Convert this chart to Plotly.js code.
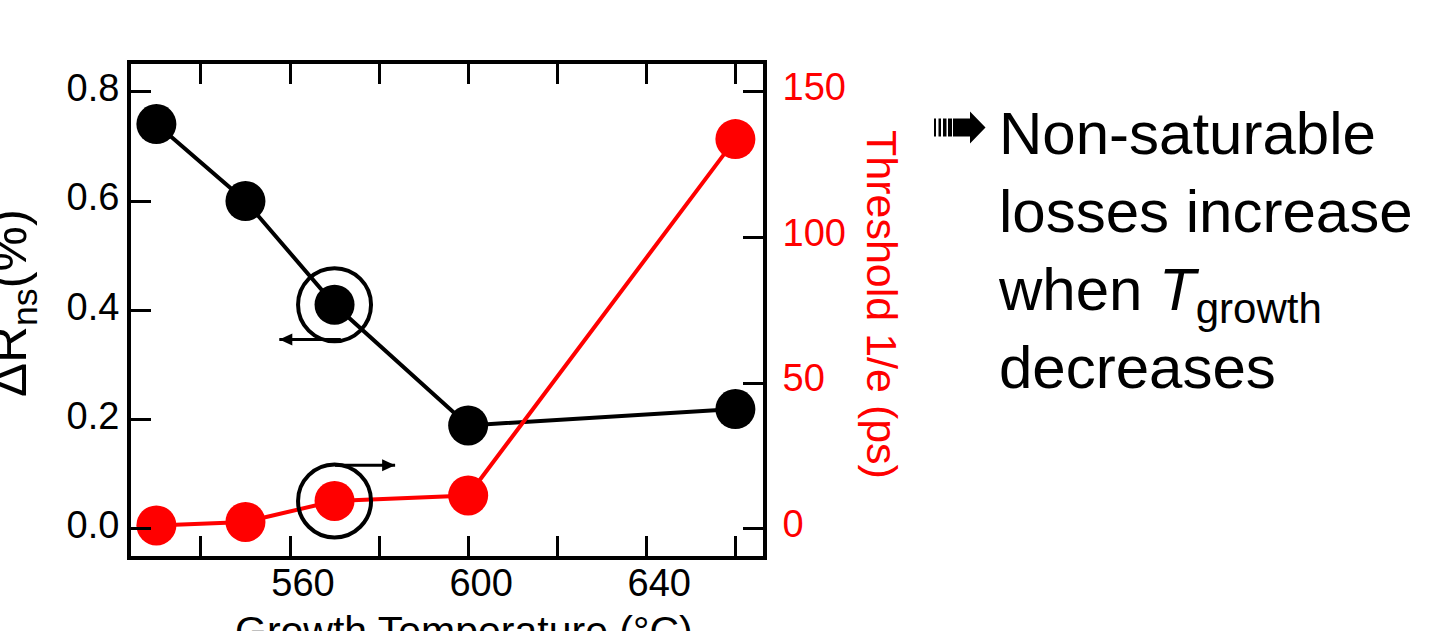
<!DOCTYPE html>
<html>
<head>
<meta charset="utf-8">
<script src="https://cdn.plot.ly/plotly-3.0.1.min.js"></script>
<style>html,body{margin:0;padding:0;background:#fff;}#chart{width:1436px;height:631px;}</style>
</head>
<body>
<div id="chart"></div>
<script>
// ---- data ----
const growthTemp = [530, 550, 570, 600, 660];          // °C
const deltaRns   = [0.741, 0.600, 0.410, 0.189, 0.219]; // %
const threshold  = [1.1, 2.3, 9.5, 11.4, 133.8];       // ps
const highlightIndex = 2;                               // circled points

const xTickVals = [560, 600, 640];
const xTickText = ['560', '600', '640'];
const yTickVals = [0, 0.2, 0.4, 0.6, 0.8];
const yTickText = ['0.0', '0.2', '0.4', '0.6', '0.8'];
const y2TickVals = [0, 50, 100, 150];
const y2TickText = ['0', '50', '100', '150'];

// ---- layout helpers ----
const W = 1436, H = 631;
const M = {l: 131, r: 673, t: 64, b: 75};
const pw = W - M.l - M.r, ph = H - M.t - M.b;
const px = X => (X - M.l) / pw;          // pixel -> paper x
const py = Y => (H - M.b - Y) / ph;      // pixel -> paper y

const FONT = 'Liberation Sans, Arial, Helvetica, sans-serif';

const traces = [
  {x: growthTemp, y: deltaRns, yaxis: 'y', type: 'scatter', mode: 'lines+markers',
   line: {color: '#000000', width: 4}, marker: {color: '#000000', size: 40},
   cliponaxis: false, hoverinfo: 'skip', showlegend: false},
  {x: [growthTemp[highlightIndex]], y: [deltaRns[highlightIndex]], yaxis: 'y', type: 'scatter', mode: 'markers',
   marker: {symbol: 'circle-open', color: '#000000', size: 73, line: {width: 4}},
   hoverinfo: 'skip', showlegend: false},
  {x: growthTemp, y: threshold, yaxis: 'y2', type: 'scatter', mode: 'lines+markers',
   line: {color: '#FF0000', width: 4}, marker: {color: '#FF0000', size: 40},
   cliponaxis: false, hoverinfo: 'skip', showlegend: false},
  {x: [growthTemp[highlightIndex]], y: [threshold[highlightIndex]], yaxis: 'y2', type: 'scatter', mode: 'markers',
   marker: {symbol: 'circle-open', color: '#000000', size: 73, line: {width: 4}},
   hoverinfo: 'skip', showlegend: false}
];

const shapes = [];
// striped arrow icon (decoration)
const bars = [[934, 936], [938.5, 941], [943, 946.5], [948, 952]];
bars.forEach(b => shapes.push({type: 'rect', xref: 'paper', yref: 'paper',
  x0: px(b[0]), x1: px(b[1]), y0: py(118.5), y1: py(136.5),
  fillcolor: '#000', line: {width: 0}}));
const arrowPath = 'M ' + px(953) + ' ' + py(118.5) +
  ' L ' + px(970) + ' ' + py(118.5) +
  ' L ' + px(970) + ' ' + py(111.5) +
  ' L ' + px(985.5) + ' ' + py(127.5) +
  ' L ' + px(970) + ' ' + py(143.5) +
  ' L ' + px(970) + ' ' + py(136.5) +
  ' L ' + px(953) + ' ' + py(136.5) + ' Z';
shapes.push({type: 'path', xref: 'paper', yref: 'paper', path: arrowPath,
  fillcolor: '#000', line: {width: 0}});

// axis-pointing arrows next to the circled points
function axisArrow(yref, xTail, xTip, yVal, dir) {
  shapes.push({type: 'line', xref: 'x', yref: yref, x0: xTail, x1: xTip, y0: yVal, y1: yVal,
    line: {color: '#000', width: 3}});
  const d = dir < 0 ? 13 : -13;
  shapes.push({type: 'path', xref: 'x', yref: yref, xsizemode: 'pixel', ysizemode: 'pixel',
    xanchor: xTip, yanchor: yVal, path: 'M 0 0 L ' + d + ' 6 L ' + d + ' -6 Z',
    fillcolor: '#000', line: {width: 0}});
}
axisArrow('y', 571.4, 557.6, 0.3463, -1);
axisArrow('y2', 570.1, 583.6, 21.75, 1);

const annotations = [
  // x axis title
  {xref: 'paper', yref: 'paper', x: px(464), y: py(606), xanchor: 'center', yanchor: 'top',
   text: 'Growth Temperature (°C)', showarrow: false,
   font: {family: FONT, size: 41, color: '#000'}},
  // left axis title (reads bottom to top)
  {xref: 'paper', yref: 'paper', x: px(12), y: py(303), xanchor: 'center', yanchor: 'middle',
   text: 'ΔR<sub>ns</sub>(%)', textangle: -90, showarrow: false,
   font: {family: FONT, size: 51, color: '#000'}},
  // right axis title (reads top to bottom)
  {xref: 'paper', yref: 'paper', x: px(882), y: py(305), xanchor: 'center', yanchor: 'middle',
   text: 'Threshold 1/e (ps)', textangle: 90, showarrow: false,
   font: {family: FONT, size: 43, color: '#FF0000'}},
  // side text
  {xref: 'paper', yref: 'paper', x: px(996), y: py(98), xanchor: 'left', yanchor: 'top', align: 'left',
   text: 'Non-saturable<br>losses increase<br>when <i>T</i><sub>growth</sub><br>decreases',
   showarrow: false, font: {family: FONT, size: 60, color: '#000'}}
];

const axisCommon = {
  showgrid: false, zeroline: false, showline: true, linewidth: 4, linecolor: '#000',
  ticks: 'inside', ticklen: 20, tickwidth: 3, tickcolor: '#000'
};

const layout = {
  width: W, height: H, margin: M,
  paper_bgcolor: '#fff', plot_bgcolor: '#fff',
  font: {family: FONT, color: '#000'},
  showlegend: false,
  xaxis: Object.assign({}, axisCommon, {
    range: [524.3, 666.2], tickmode: 'array', tickvals: xTickVals, ticktext: xTickText,
    minor: {tick0: 540, dtick: 20, ticks: 'inside', ticklen: 20, tickwidth: 3, tickcolor: '#000', showgrid: false},
    mirror: 'ticks', tickfont: {family: FONT, size: 38, color: '#000'},
    ticklabelshift: 13, ticklabelstandoff: -10
  }),
  yaxis: Object.assign({}, axisCommon, {
    range: [-0.0502, 0.851], tickmode: 'array', tickvals: yTickVals, ticktext: yTickText,
    tickfont: {family: FONT, size: 38, color: '#000'}, ticklabelshift: -4
  }),
  yaxis2: Object.assign({}, axisCommon, {
    overlaying: 'y', side: 'right', anchor: 'x',
    range: [-9.41, 159.6], tickmode: 'array', tickvals: y2TickVals, ticktext: y2TickText,
    tickfont: {family: FONT, size: 38, color: '#FF0000'}, ticklabelshift: -5, ticklabelstandoff: 8
  }),
  shapes: shapes,
  annotations: annotations
};

Plotly.newPlot('chart', traces, layout, {staticPlot: true, displayModeBar: false});
</script>
</body>
</html>
